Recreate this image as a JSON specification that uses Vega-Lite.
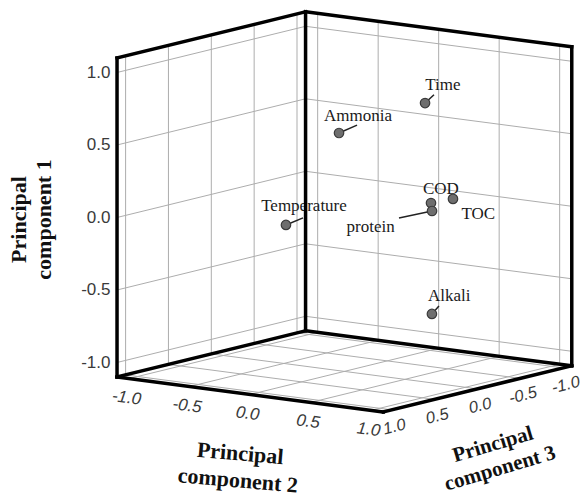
{
  "$schema": "https://vega.github.io/schema/vega-lite/v6.json",
  "width": 455,
  "height": 498,
  "autosize": {"type": "none"},
  "padding": {"left": 117, "top": 0, "right": 9, "bottom": 0},
  "background": "white",
  "config": {"view": {"stroke": null}},
  "datasets": {
    "points": [
      {"name": "Time", "p1": 0.757, "p2": 0.454, "p3": -0.3, "l1": 0.898, "l2": 0.602, "e1": 0.822, "e2": 0.528},
      {"name": "Ammonia", "p1": 0.606, "p2": 0.168, "p3": 0.3, "l1": 0.737, "l2": 0.325, "e1": 0.677, "e2": 0.317},
      {"name": "COD", "p1": 0.095, "p2": 0.574, "p3": -0.2, "l1": 0.199, "l2": 0.656},
      {"name": "protein", "p1": 0.108, "p2": 0.795, "p3": 0.1, "l1": -0.06, "l2": 0.288, "e1": 0.03, "e2": 0.522},
      {"name": "TOC", "p1": 0.099, "p2": 0.614, "p3": -0.4, "l1": 0.018, "l2": 0.823},
      {"name": "Temperature", "p1": -0.143, "p2": -0.483, "p3": 0, "l1": 0.006, "l2": -0.334, "e1": -0.079, "e2": -0.342},
      {"name": "Alkali", "p1": -0.58, "p2": 0.865, "p3": 0.2, "l1": -0.439, "l2": 1.008, "e1": -0.519, "e2": 0.923}
    ],
    "lines": [
      {"k": "grid", "a1": -1.1, "a2": -1.1, "a3": -1, "b1": 1.1, "b2": -1.1, "b3": -1},
      {"k": "grid", "a1": -1.1, "a2": -1.1, "a3": -0.5, "b1": 1.1, "b2": -1.1, "b3": -0.5},
      {"k": "grid", "a1": -1.1, "a2": -1.1, "a3": 0, "b1": 1.1, "b2": -1.1, "b3": 0},
      {"k": "grid", "a1": -1.1, "a2": -1.1, "a3": 0.5, "b1": 1.1, "b2": -1.1, "b3": 0.5},
      {"k": "grid", "a1": -1.1, "a2": -1.1, "a3": 1, "b1": 1.1, "b2": -1.1, "b3": 1},
      {"k": "grid", "a1": -1, "a2": -1.1, "a3": 1.1, "b1": -1, "b2": -1.1, "b3": -1.1},
      {"k": "grid", "a1": -0.5, "a2": -1.1, "a3": 1.1, "b1": -0.5, "b2": -1.1, "b3": -1.1},
      {"k": "grid", "a1": 0, "a2": -1.1, "a3": 1.1, "b1": 0, "b2": -1.1, "b3": -1.1},
      {"k": "grid", "a1": 0.5, "a2": -1.1, "a3": 1.1, "b1": 0.5, "b2": -1.1, "b3": -1.1},
      {"k": "grid", "a1": 1, "a2": -1.1, "a3": 1.1, "b1": 1, "b2": -1.1, "b3": -1.1},
      {"k": "grid", "a1": -1.1, "a2": -1, "a3": -1.1, "b1": 1.1, "b2": -1, "b3": -1.1},
      {"k": "grid", "a1": -1.1, "a2": -0.5, "a3": -1.1, "b1": 1.1, "b2": -0.5, "b3": -1.1},
      {"k": "grid", "a1": -1.1, "a2": 0, "a3": -1.1, "b1": 1.1, "b2": 0, "b3": -1.1},
      {"k": "grid", "a1": -1.1, "a2": 0.5, "a3": -1.1, "b1": 1.1, "b2": 0.5, "b3": -1.1},
      {"k": "grid", "a1": -1.1, "a2": 1, "a3": -1.1, "b1": 1.1, "b2": 1, "b3": -1.1},
      {"k": "grid", "a1": -1, "a2": -1.1, "a3": -1.1, "b1": -1, "b2": 1.1, "b3": -1.1},
      {"k": "grid", "a1": -0.5, "a2": -1.1, "a3": -1.1, "b1": -0.5, "b2": 1.1, "b3": -1.1},
      {"k": "grid", "a1": 0, "a2": -1.1, "a3": -1.1, "b1": 0, "b2": 1.1, "b3": -1.1},
      {"k": "grid", "a1": 0.5, "a2": -1.1, "a3": -1.1, "b1": 0.5, "b2": 1.1, "b3": -1.1},
      {"k": "grid", "a1": 1, "a2": -1.1, "a3": -1.1, "b1": 1, "b2": 1.1, "b3": -1.1},
      {"k": "grid", "a1": -1.1, "a2": -1, "a3": 1.1, "b1": -1.1, "b2": -1, "b3": -1.1},
      {"k": "grid", "a1": -1.1, "a2": -0.5, "a3": 1.1, "b1": -1.1, "b2": -0.5, "b3": -1.1},
      {"k": "grid", "a1": -1.1, "a2": 0, "a3": 1.1, "b1": -1.1, "b2": 0, "b3": -1.1},
      {"k": "grid", "a1": -1.1, "a2": 0.5, "a3": 1.1, "b1": -1.1, "b2": 0.5, "b3": -1.1},
      {"k": "grid", "a1": -1.1, "a2": 1, "a3": 1.1, "b1": -1.1, "b2": 1, "b3": -1.1},
      {"k": "grid", "a1": -1.1, "a2": -1.1, "a3": -1, "b1": -1.1, "b2": 1.1, "b3": -1},
      {"k": "grid", "a1": -1.1, "a2": -1.1, "a3": -0.5, "b1": -1.1, "b2": 1.1, "b3": -0.5},
      {"k": "grid", "a1": -1.1, "a2": -1.1, "a3": 0, "b1": -1.1, "b2": 1.1, "b3": 0},
      {"k": "grid", "a1": -1.1, "a2": -1.1, "a3": 0.5, "b1": -1.1, "b2": 1.1, "b3": 0.5},
      {"k": "grid", "a1": -1.1, "a2": -1.1, "a3": 1, "b1": -1.1, "b2": 1.1, "b3": 1},
      {"k": "edge", "a1": -1.1, "a2": -1.1, "a3": 1.1, "b1": 1.1, "b2": -1.1, "b3": 1.1},
      {"k": "edge", "a1": -1.1, "a2": -1.1, "a3": -1.1, "b1": 1.1, "b2": -1.1, "b3": -1.1},
      {"k": "edge", "a1": -1.1, "a2": 1.1, "a3": -1.1, "b1": 1.1, "b2": 1.1, "b3": -1.1},
      {"k": "edge", "a1": 1.1, "a2": -1.1, "a3": 1.1, "b1": 1.1, "b2": -1.1, "b3": -1.1},
      {"k": "edge", "a1": 1.1, "a2": -1.1, "a3": -1.1, "b1": 1.1, "b2": 1.1, "b3": -1.1},
      {"k": "edge", "a1": -1.1, "a2": -1.1, "a3": 1.1, "b1": -1.1, "b2": 1.1, "b3": 1.1},
      {"k": "edge", "a1": -1.1, "a2": 1.1, "a3": 1.1, "b1": -1.1, "b2": 1.1, "b3": -1.1},
      {"k": "edge", "a1": -1.1, "a2": -1.1, "a3": 1.1, "b1": -1.1, "b2": -1.1, "b3": -1.1},
      {"k": "edge", "a1": -1.1, "a2": -1.1, "a3": -1.1, "b1": -1.1, "b2": 1.1, "b3": -1.1}
    ],
    "ticks2": [
      {"v": -1, "lab": "-1.0"}, {"v": -0.5, "lab": "-0.5"}, {"v": 0, "lab": "0.0"}, {"v": 0.5, "lab": "0.5"}, {"v": 1, "lab": "1.0"}
    ],
    "ticks3": [
      {"v": -1, "lab": "-1.0"}, {"v": -0.5, "lab": "-0.5"}, {"v": 0, "lab": "0.0"}, {"v": 0.5, "lab": "0.5"}, {"v": 1, "lab": "1.0"}
    ]
  },
  "encoding": {
    "x": {"field": "X", "type": "quantitative", "scale": {"domain": [-227.4, 227.6], "nice": false, "zero": false}, "axis": null},
    "y": {
      "field": "Y", "type": "quantitative",
      "scale": {"domain": [-1.9345, 1.5], "nice": false, "zero": false},
      "axis": {
        "values": [-1, -0.5, 0, 0.5, 1],
        "labelExpr": "replace(format(datum.value, '.1f'), '−', '-')",
        "domain": false, "ticks": false, "tickSize": 0, "grid": false,
        "labelPadding": 7, "labelFont": "Liberation Sans", "labelFontSize": 17, "labelColor": "#3a3a3a",
        "title": ["Principal", "component 1"],
        "titleFont": "Liberation Serif", "titleFontSize": 22, "titleFontWeight": "bold", "titleColor": "#111111",
        "titleAngle": -90, "titleX": -98.5, "titleY": 219, "titleAlign": "center", "titleBaseline": "middle", "titleLineHeight": 25
      }
    }
  },
  "layer": [
    {
      "data": {"name": "lines"},
      "transform": [
        {"filter": "datum.k == 'grid'"},
        {"calculate": "121*datum.a2 - 85.7*datum.a3", "as": "X"},
        {"calculate": "datum.a1 - (15.9*datum.a2 + 21*datum.a3 - 5.61)/145", "as": "Y"},
        {"calculate": "121*datum.b2 - 85.7*datum.b3", "as": "X2"},
        {"calculate": "datum.b1 - (15.9*datum.b2 + 21*datum.b3 - 5.61)/145", "as": "Y2"}
      ],
      "mark": {"type": "rule", "color": "#adadad", "strokeWidth": 1},
      "encoding": {"x2": {"field": "X2"}, "y2": {"field": "Y2"}}
    },
    {
      "data": {"name": "points"},
      "transform": [
        {"filter": "isValid(datum.e1)"},
        {"calculate": "121*datum.p2 - 85.7*datum.p3", "as": "X"},
        {"calculate": "datum.p1 - (15.9*datum.p2 + 21*datum.p3 - 5.61)/145", "as": "Y"},
        {"calculate": "121*datum.e2 - 85.7*datum.p3", "as": "X2"},
        {"calculate": "datum.e1 - (15.9*datum.e2 + 21*datum.p3 - 5.61)/145", "as": "Y2"}
      ],
      "mark": {"type": "rule", "color": "#222222", "strokeWidth": 1.5},
      "encoding": {"x2": {"field": "X2"}, "y2": {"field": "Y2"}}
    },
    {
      "data": {"name": "points"},
      "transform": [
        {"calculate": "121*datum.l2 - 85.7*datum.p3", "as": "X"},
        {"calculate": "datum.l1 - (15.9*datum.l2 + 21*datum.p3 - 5.61)/145", "as": "Y"}
      ],
      "mark": {"type": "text", "font": "Liberation Serif", "fontSize": 17, "color": "#1a1a1a", "align": "center", "baseline": "middle"},
      "encoding": {"text": {"field": "name", "type": "nominal"}}
    },
    {
      "data": {"name": "lines"},
      "transform": [
        {"filter": "datum.k == 'edge'"},
        {"calculate": "121*datum.a2 - 85.7*datum.a3", "as": "X"},
        {"calculate": "datum.a1 - (15.9*datum.a2 + 21*datum.a3 - 5.61)/145", "as": "Y"},
        {"calculate": "121*datum.b2 - 85.7*datum.b3", "as": "X2"},
        {"calculate": "datum.b1 - (15.9*datum.b2 + 21*datum.b3 - 5.61)/145", "as": "Y2"}
      ],
      "mark": {"type": "rule", "color": "#000000", "strokeWidth": 3.5, "strokeCap": "square"},
      "encoding": {"x2": {"field": "X2"}, "y2": {"field": "Y2"}}
    },
    {
      "data": {"name": "points"},
      "transform": [
        {"calculate": "121*datum.p2 - 85.7*datum.p3", "as": "X"},
        {"calculate": "datum.p1 - (15.9*datum.p2 + 21*datum.p3 - 5.61)/145", "as": "Y"}
      ],
      "mark": {"type": "circle", "size": 90, "fill": "#6e6e6e", "stroke": "#3a3a3a", "strokeWidth": 1.2, "opacity": 1}
    },
    {
      "data": {"name": "ticks2"},
      "transform": [
        {"calculate": "121*datum.v - 85.7*1.1", "as": "X"},
        {"calculate": "-1.1 - (15.9*datum.v + 21*1.1 - 5.61)/145", "as": "Y"}
      ],
      "mark": {"type": "text", "font": "Liberation Sans", "fontSize": 17, "fontStyle": "italic", "color": "#3a3a3a", "align": "center", "baseline": "middle", "angle": 7.5, "dy": 19.5},
      "encoding": {"text": {"field": "lab", "type": "nominal"}}
    },
    {
      "data": {"name": "ticks3"},
      "transform": [
        {"calculate": "121*1.1 - 85.7*datum.v", "as": "X"},
        {"calculate": "-1.1 - (15.9*1.1 + 21*datum.v - 5.61)/145", "as": "Y"}
      ],
      "mark": {"type": "text", "font": "Liberation Sans", "fontSize": 16.5, "fontStyle": "italic", "color": "#3a3a3a", "align": "center", "baseline": "middle", "angle": -13.8, "dx": -1.5, "dy": 17.2},
      "encoding": {"text": {"field": "lab", "type": "nominal"}}
    },
    {
      "data": {"values": [{"t": "Principal\ncomponent 2", "v": 0}]},
      "transform": [
        {"calculate": "121*datum.v - 85.7*1.1", "as": "X"},
        {"calculate": "-1.1 - (15.9*datum.v + 21*1.1 - 5.61)/145", "as": "Y"}
      ],
      "mark": {"type": "text", "font": "Liberation Serif", "fontSize": 22, "fontWeight": "bold", "color": "#111111", "align": "center", "baseline": "middle", "angle": 5, "dx": -4.7, "dy": 59.7, "lineBreak": "\n", "lineHeight": 27},
      "encoding": {"text": {"field": "t", "type": "nominal"}}
    },
    {
      "data": {"values": [{"t": "Principal\ncomponent 3", "v": 0}]},
      "transform": [
        {"calculate": "121*1.1 - 85.7*datum.v", "as": "X"},
        {"calculate": "-1.1 - (15.9*1.1 + 21*datum.v - 5.61)/145", "as": "Y"}
      ],
      "mark": {"type": "text", "font": "Liberation Serif", "fontSize": 21, "fontWeight": "bold", "color": "#111111", "align": "center", "baseline": "middle", "angle": -16.5, "dx": -1, "dy": 58, "lineBreak": "\n", "lineHeight": 25},
      "encoding": {"text": {"field": "t", "type": "nominal"}}
    }
  ]
}
